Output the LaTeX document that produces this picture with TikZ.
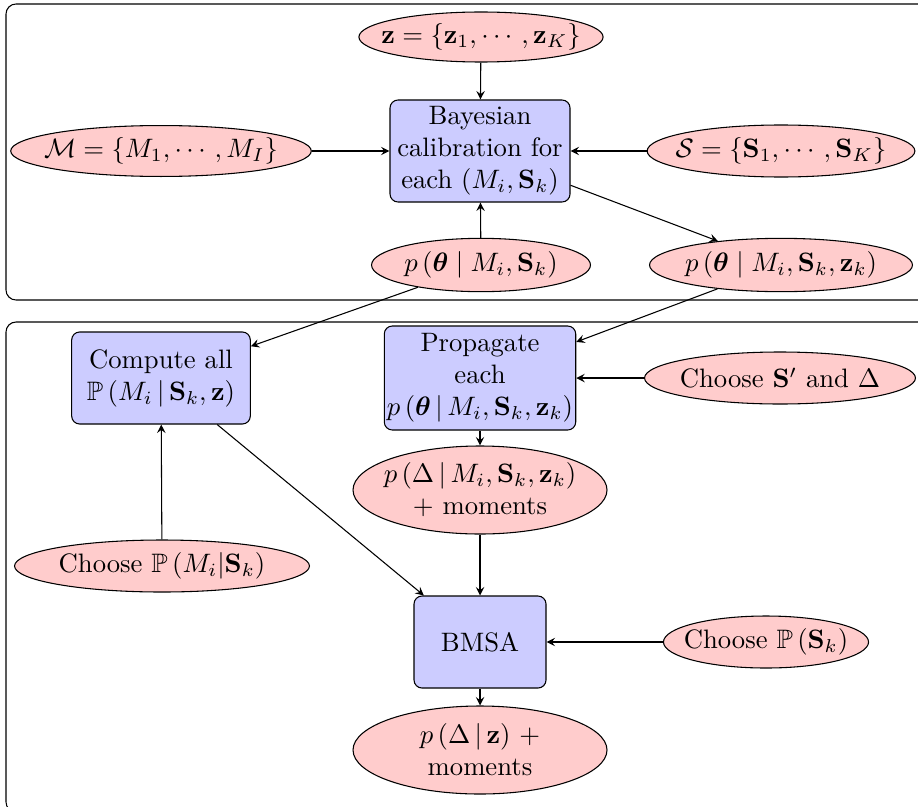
\documentclass[tikz,border=0pt]{standalone}
\usepackage{amsmath,amssymb}
\usetikzlibrary{shapes.geometric}

\tikzset{
  datanode/.style={ellipse, draw, fill=red!20, inner xsep=-4pt, inner ysep=0pt, align=center},
  procnode/.style={rectangle, rounded corners=3pt, draw, fill=blue!20, inner xsep=1pt, inner ysep=0pt, align=center},
  stagebox/.style={draw, rounded corners=3.75pt},
}

\begin{document}
\begin{tikzpicture}[x=0.375pt, y=-0.375pt, >=stealth]
	\useasboundingbox (0,0) rectangle (918,806);
	\clip (0,0) rectangle (918,806);
	% the two stages
	\draw[stagebox] (6,4) rectangle (940,300);
	\draw[stagebox] (6,322) rectangle (940,812);
	% calibration stage
	\node[datanode, inner xsep=-5pt, minimum width=90.75pt, minimum height=18.75pt] (data) at (481,37) {$\mathbf{z}=\{\mathbf{z}_1,\cdots,\mathbf{z}_K\}$};
	\node[procnode, minimum width=67.5pt, minimum height=38.25pt] (calib) at (480,151) {Bayesian\\calibration for\\each $(M_i,\mathbf{S}_k)$};
	\node[datanode, minimum width=110.6pt, minimum height=19.1pt] (models) at (161,151) {$\mathcal{M}=\{M_1,\cdots,M_I\}$};
	\node[datanode, minimum width=99.4pt, minimum height=19.5pt] (scen) at (781,151) {$\mathcal{S}=\{\mathbf{S}_1,\cdots,\mathbf{S}_K\}$};
	\node[datanode, minimum width=82.1pt, minimum height=20pt] (prior) at (481,265) {$p\,(\boldsymbol{\theta}\mid M_i,\mathbf{S}_k)$};
	\node[datanode, minimum width=98.6pt, minimum height=20pt] (post) at (781,265) {$p\,(\boldsymbol{\theta}\mid M_i,\mathbf{S}_k,\mathbf{z}_k)$};
	% prediction stage
	\node[procnode, minimum width=67pt, minimum height=34.5pt] (evid) at (161,378) {Compute all\\$\mathbb{P}\,(M_i\,|\,\mathbf{S}_k,\mathbf{z})$};
	\node[procnode, minimum width=67.5pt, minimum height=39pt] (prop) at (480,378) {Propagate\\each\\$p\,(\boldsymbol{\theta}\,|\,M_i,\mathbf{S}_k,\mathbf{z}_k)$};
	\node[datanode, minimum width=101.6pt, minimum height=19.5pt] (qoi) at (780,378) {Choose $\mathbf{S}'$ and $\Delta$};
	\node[datanode, minimum width=95.25pt, minimum height=33pt] (pred) at (480,490) {$p\,(\Delta\,|\,M_i,\mathbf{S}_k,\mathbf{z}_k)$\\+ moments};
	\node[datanode, minimum width=110.6pt, minimum height=19.5pt] (mprior) at (162,566) {Choose $\mathbb{P}\,(M_i|\mathbf{S}_k)$};
	\node[procnode, minimum width=49.5pt, minimum height=34.5pt] (bmsa) at (480,642) {BMSA};
	\node[datanode, minimum width=76.9pt, minimum height=19.5pt] (sprior) at (766,642) {Choose $\mathbb{P}\,(\mathbf{S}_k)$};
	\node[datanode, minimum width=95.25pt, minimum height=33pt] (final) at (480,750) {$p\,(\Delta\,|\,\mathbf{z})$ +\\moments};
	% connectors
	\draw[->] (data) -- (calib);
	\draw[->] (models) -- (calib);
	\draw[->] (scen) -- (calib);
	\draw[->] (prior) -- (calib);
	\draw[->] (calib) -- (post);
	\draw[->] (prior) -- (evid);
	\draw[->] (post) -- (prop);
	\draw[->] (qoi) -- (prop);
	\draw[->] (prop) -- (pred);
	\draw[->] (mprior) -- (evid);
	\draw[->] (evid) -- (bmsa);
	\draw[->] (pred) -- (bmsa);
	\draw[->] (sprior) -- (bmsa);
	\draw[->] (bmsa) -- (final);
\end{tikzpicture}
\end{document}
